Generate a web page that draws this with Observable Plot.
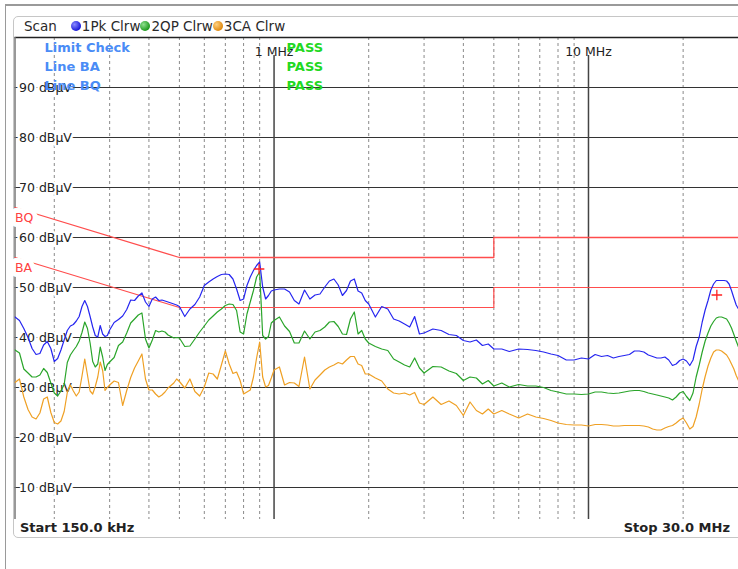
<!DOCTYPE html>
<html>
<head>
<meta charset="utf-8">
<script src="https://cdn.jsdelivr.net/npm/d3@7"></script>
<script src="https://cdn.jsdelivr.net/npm/@observablehq/plot@0.6"></script>
<style>
  html, body { margin: 0; padding: 0; background: #fff; }
  #wrap { position: relative; width: 738px; height: 569px; overflow: hidden; font-family: "DejaVu Sans", sans-serif; }
  #outer { position: absolute; left: 5px; top: 4px; width: 760px; height: 600px; border-top: 2px solid #9a9a9a; border-left: 1.5px solid #9a9a9a; }
  #panel { position: absolute; left: 13px; top: 16px; width: 740px; height: 520px; border: 1.5px solid #c6c6c6; border-radius: 5px; }
  #chart { position: absolute; left: 0; top: 0; }
  #header { position: absolute; left: 24px; top: 18px; font-size: 13.5px; color: #2a2a2a; white-space: nowrap; display: flex; align-items: center; }
  .ball { display: inline-block; width: 10px; height: 10px; border-radius: 50%; margin: 0 1px 0 0; }
  #start, #stop { position: absolute; top: 520px; font-size: 13px; font-weight: bold; color: #222; }
  #start { left: 20px; }
  #stop { right: 8px; }
</style>
</head>
<body>
<div id="wrap">
  <div id="outer"></div>
  <div id="panel"></div>
  <div id="chart"></div>
  <div id="header"><span style="margin-right:14px">Scan</span><span class="ball" style="background:radial-gradient(circle at 35% 35%, #8a8aff, #1a1ad8 70%)"></span><span>1Pk Clrw</span><span class="ball" style="background:radial-gradient(circle at 35% 35%, #8ee08e, #1e9a1e 70%)"></span><span>2QP Clrw</span><span class="ball" style="background:radial-gradient(circle at 35% 35%, #ffd080, #e08a10 70%)"></span><span>3CA Clrw</span></div>
  <div id="start">Start 150.0 kHz</div>
  <div id="stop">Stop 30.0 MHz</div>
</div>
<script>
// Sweep frequencies (MHz)
const freqMHz = [
  0.150,0.155,0.160,0.165,0.170,0.175,0.180,0.185,0.190,0.195,0.200,0.205,0.210,0.215,0.220,0.225,0.230,0.235,0.240,0.245,0.250,0.255,0.260,0.265,0.270,0.275,0.280,0.285,0.290,0.295,0.300,
  0.31,0.32,0.33,0.34,0.35,0.36,0.37,0.38,0.39,0.40,0.41,0.42,0.43,0.44,0.45,0.46,0.47,0.48,0.49,0.50,
  0.52,0.54,0.56,0.58,0.60,0.62,0.64,0.66,0.68,0.70,0.72,0.74,0.76,0.78,0.80,0.82,0.84,0.86,0.88,0.90,0.92,0.94,0.96,0.98,1.00,
  1.04,1.08,1.12,1.16,1.20,
  1.25,1.30,1.35,1.40,1.45,1.50,1.55,1.60,1.65,1.70,1.75,1.80,1.85,1.90,1.95,2.00,
  2.1,2.2,2.3,2.4,2.5,2.6,2.7,2.8,2.9,3.0,
  3.2,3.4,3.6,3.8,4.0,4.2,4.4,4.6,4.8,5.0,
  5.3,5.6,
  6.0,6.4,6.8,7.2,7.6,8.0,
  8.5,9,9.5,10,10.5,11,11.5,12,12.5,13,13.5,14,14.5,15,15.5,16,16.5,17,17.5,18,18.5,19,19.5,20,20.5,21,21.5,22,22.5,23,23.5,24,24.5,25,25.5,26,26.5,27,27.5,28,28.5,29,29.5,30
];

// 1Pk Clrw (dBµV)
const peak = [
  44.1,43.4,41.8,40.0,37.8,36.6,36.8,38.5,39.2,37.8,35.2,35.8,37.5,39.5,41.4,42.3,42.6,43.3,44.2,46.2,47.4,46.2,44.2,42.1,40.4,40.1,42.4,40.7,40.2,40.4,41.5,
  43.0,43.6,44.3,45.6,47.5,47.4,48.3,48.9,47.1,46.2,47.7,48.1,47.4,47.5,47.3,47.1,46.9,46.7,46.5,46.2,
  44.2,45.7,46.6,48.1,50.4,51.1,51.7,52.2,52.6,52.7,52.6,51.7,49.7,47.4,47.7,50.4,52.1,53.4,54.4,55.1,50.1,47.7,48.4,49.3,49.5,
  49.7,49.7,49.1,47.4,46.7,
  49.5,47.7,48.5,48.7,50.1,51.3,51.7,50.5,48.4,49.4,51.3,51.7,49.3,48.9,47.4,46.7,
  44.1,46.2,45.7,43.7,43.3,42.7,42.1,44.2,40.7,40.9,
  41.7,41.4,40.6,40.4,39.4,39.1,39.5,38.4,38.7,37.7,
  37.7,37.2,
  37.7,37.6,37.4,37.1,36.7,36.4,
  35.5,35.5,35.9,35.7,36.6,36.2,36.4,35.9,36.2,36.4,36.6,37.3,37.3,37.1,36.5,36.2,35.9,35.9,36.1,35.5,34.4,34.7,35.4,35.7,35.3,34.4,35.5,38.2,40.1,43.1,45.5,47.4,49.5,50.7,51.4,51.4,51.4,51.4,51.3,50.7,49.4,47.9,46.5,45.7
];

// 2QP Clrw (dBµV)
const quasiPeak = [
  37.5,36.9,33.7,32.9,32.1,32.1,32.5,33.8,33.0,30.9,28.9,28.3,29.3,30.6,35.0,36.5,37.4,38.2,39.3,41.0,43.1,41.8,38.9,35.2,34.1,34.7,38.1,36.1,33.4,34.6,35.1,
  36.0,38.4,39.1,40.9,42.9,43.7,44.5,44.9,39.7,37.9,39.5,41.4,41.1,41.3,41.1,40.5,40.2,39.9,40.0,39.9,
  38.2,38.3,39.7,41.1,42.3,43.5,44.3,45.1,45.7,46.4,46.7,46.6,45.4,41.1,40.7,44.7,47.1,49.4,52.1,53.1,40.4,39.7,40.2,42.9,43.4,
  44.1,42.3,41.2,38.9,38.9,
  41.3,39.7,41.1,41.4,42.1,43.1,43.2,42.2,40.7,40.6,43.7,45.1,40.7,41.4,39.7,38.9,
  38.2,37.7,37.4,35.7,35.1,34.5,34.1,35.9,33.9,32.9,
  34.2,34.1,33.3,32.8,31.4,32.1,31.9,30.7,31.4,30.3,
  30.9,30.1,
  30.6,30.3,30.3,30.0,29.4,29.1,
  28.7,28.7,28.6,28.7,29.1,29.1,28.9,28.8,28.9,29.1,29.3,29.4,29.4,29.2,28.9,28.7,28.5,28.3,28.1,27.9,27.5,28.1,28.9,29.2,28.2,27.4,28.9,32.1,34.5,37.1,39.3,40.9,42.3,43.2,43.9,44.1,44.1,43.9,43.7,42.9,41.9,40.6,39.3,38.1
];

// 3CA Clrw (dBµV)
const cAverage = [
  31.0,31.7,28.1,25.6,24.1,23.7,24.9,27.7,28.1,25.0,23.0,22.7,23.3,25.2,29.0,30.5,29.3,28.3,29.1,32.3,35.7,32.5,29.3,28.7,30.2,32.1,35.1,33.4,29.4,30.0,30.5,
  31.3,31.0,26.4,29.4,32.0,33.9,35.3,36.7,31.7,29.5,29.5,28.7,28.1,28.5,29.1,29.9,30.4,30.9,31.7,31.2,
  29.9,31.7,29.2,28.3,30.1,32.9,32.7,31.7,34.5,37.3,34.7,32.8,33.1,31.4,28.7,29.1,29.5,32.1,35.9,39.1,32.1,30.1,30.4,31.9,33.5,
  34.1,30.5,31.0,30.9,30.2,
  36.1,29.7,31.5,32.5,33.5,34.1,34.5,35.0,34.7,35.5,36.2,36.2,34.7,34.4,32.7,32.7,
  31.9,31.3,29.7,28.9,28.7,28.9,28.5,29.0,26.9,26.6,
  28.1,26.6,27.3,26.4,24.4,27.1,25.4,24.7,25.7,24.7,
  25.4,24.7,
  23.9,24.7,24.1,23.8,23.4,22.9,
  22.6,22.5,22.5,22.3,22.6,22.6,22.5,22.3,22.3,22.4,22.4,22.4,22.4,22.3,22.1,21.7,21.5,21.5,21.9,22.2,22.4,22.9,23.5,23.9,22.9,21.7,22.2,24.1,26.7,29.7,32.2,34.3,35.9,37.1,37.5,37.5,37.3,36.9,36.5,35.7,34.7,33.7,32.4,31.4
];

// Limit lines
const bqFreq = [0.15, 0.5, 5, 5, 30];
const bqLevel = [66, 56, 56, 60, 60];
const baFreq = [0.15, 0.5, 5, 5, 30];
const baLevel = [56, 46, 46, 50, 50];
const limitLabels = ["BQ", "BA"];
const limitLabelLevel = [64, 54];

// Markers
const markerFreq = [0.896, 25.6];
const markerLevel = [53.7, 48.5];

// Axes
const yTicks = [10, 20, 30, 40, 50, 60, 70, 80, 90];
const majorX = [1, 10];
const minorX = [0.2,0.3,0.4,0.5,0.6,0.7,0.8,0.9,2,3,4,5,6,7,8,9,20];

const series = (vals) => freqMHz.map((f, i) => ({f, v: vals[i]}));
const limit = (fs, ls) => fs.map((f, i) => ({f, v: ls[i]}));

const chart = Plot.plot({
  width: 738,
  height: 569,
  marginTop: 37,
  marginBottom: 50,
  marginLeft: 14.5,
  marginRight: 0,
  x: {type: "log", domain: [0.15, 30], axis: null},
  y: {domain: [3.6, 100], axis: null},
  style: {fontFamily: "DejaVu Sans", fontSize: "12.5px", background: "transparent", overflow: "visible"},
  marks: [
    Plot.ruleX(minorX, {stroke: "#8a8a8a", strokeDasharray: "3,3", strokeWidth: 1}),
    Plot.ruleY(yTicks, {stroke: "#333", strokeWidth: 1.2}),
    Plot.ruleX(majorX, {stroke: "#444", strokeWidth: 1.5, insetTop: 18}),
    Plot.ruleY([100], {stroke: "#222", strokeWidth: 1.5}),
    Plot.ruleX([0.15], {stroke: "#777", strokeWidth: 1.5}),
    Plot.text(yTicks, {frameAnchor: "left", y: d => d, text: d => `${d} dBµV`, textAnchor: "start", dx: 4, fill: "#222", stroke: "white", strokeWidth: 5, paintOrder: "stroke"}),
    Plot.text(majorX, {x: d => d, frameAnchor: "top", dy: 10, text: d => `${d} MHz`, fill: "#222"}),
    Plot.line(limit(bqFreq, bqLevel), {x: "f", y: "v", stroke: "#ff4d4d", strokeWidth: 1.3}),
    Plot.line(limit(baFreq, baLevel), {x: "f", y: "v", stroke: "#ff4d4d", strokeWidth: 1.2}),
    Plot.text(limitLabels, {frameAnchor: "left", y: (d, i) => limitLabelLevel[i], text: d => d, textAnchor: "start", dx: 0, fill: "#ff4040", stroke: "white", strokeWidth: 10, paintOrder: "stroke"}),
    Plot.line(series(cAverage), {x: "f", y: "v", stroke: "#efa024", strokeWidth: 1.2, clip: true}),
    Plot.line(series(quasiPeak), {x: "f", y: "v", stroke: "#2aa52a", strokeWidth: 1.2, clip: true}),
    Plot.line(series(peak), {x: "f", y: "v", stroke: "#2626f0", strokeWidth: 1.2, clip: true}),
    Plot.dot(markerFreq.map((f, i) => ({f, v: markerLevel[i]})), {x: "f", y: "v", symbol: "plus", r: 3.5, stroke: "#ff2020", strokeWidth: 1.3}),
    Plot.text(["Limit Check\nLine BA\nLine BQ"], {frameAnchor: "top-left", dx: 29.5, dy: 1, lineAnchor: "top", lineHeight: 1.46, fontSize: 13, fontWeight: "bold", fill: "#4a8cf6", textAnchor: "start"}),
    Plot.text(["PASS\nPASS\nPASS"], {frameAnchor: "top-left", dx: 271.5, dy: 1, lineAnchor: "top", lineHeight: 1.46, fontSize: 13, fontWeight: "bold", fill: "#22d822", textAnchor: "start"})
  ]
});
document.getElementById("chart").appendChild(chart);
</script>
</body>
</html>
